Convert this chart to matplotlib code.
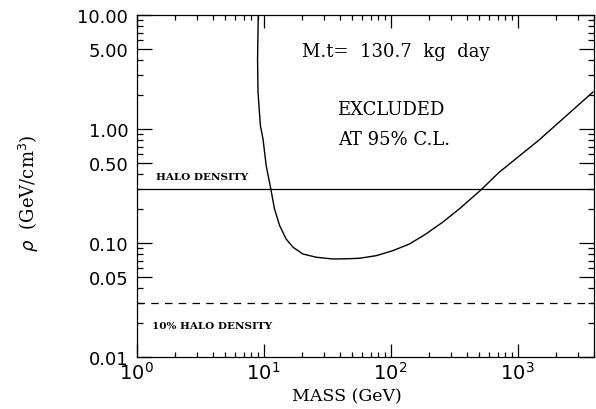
import matplotlib
matplotlib.use("Agg")
import matplotlib.pyplot as plt
from matplotlib.ticker import FixedLocator, NullFormatter, LogLocator, FixedFormatter

# Data (exclusion curve, GeV vs GeV/cm^3)
mass = [9.09, 8.98, 9.05, 9.45, 9.91, 10.5, 11.4, 12.2, 13.4, 15.1, 17.1, 20.4,
        26.0, 35.2, 47.5, 57.0, 77.1, 104, 141, 190, 257, 348, 515, 716, 1476, 3926]
rho = [10.0, 4.11, 2.11, 1.07, 0.817, 0.476, 0.30, 0.199, 0.142, 0.108, 0.0917,
       0.0801, 0.0750, 0.0724, 0.0728, 0.0735, 0.0774, 0.0856, 0.098, 0.120,
       0.152, 0.199, 0.292, 0.417, 0.80, 2.11]
halo_density = 0.3
halo_10pct = 0.03
ytick_vals = [0.01, 0.05, 0.10, 0.50, 1.00, 5.00, 10.00]
ytick_labels = ["0.01", "0.05", "0.10", "0.50", "1.00", "5.00", "10.00"]
xtick_vals = [1, 10, 100, 1000]
xtick_labels = [r"$10^{0}$", r"$10^{1}$", r"$10^{2}$", r"$10^{3}$"]

plt.rcParams['mathtext.fontset'] = 'dejavusans'
fig = plt.figure(figsize=(5.96, 4.10), dpi=100)
ax = fig.add_axes([136.5/596, 52/410, (594-136.5)/596, (358-16)/410])
ax.set_xscale('log')
ax.set_yscale('log')
ax.set_xlim(1, 4000)
ax.set_ylim(0.01, 10)

ax.plot(mass, rho, color='black', lw=1.0)
ax.axhline(halo_density, color='black', lw=0.9)
ax.axhline(halo_10pct, color='black', lw=0.9, dashes=(6, 5))

serif = 'DejaVu Serif'
ax.text(0.362, 0.895, "M.t=  130.7  kg  day", transform=ax.transAxes, fontsize=13,
        family=serif, va='center', ha='left')
ax.text(0.556, 0.725, "EXCLUDED", transform=ax.transAxes, fontsize=13,
        family=serif, va='center', ha='center')
ax.text(0.563, 0.636, "AT 95% C.L.", transform=ax.transAxes, fontsize=13,
        family=serif, va='center', ha='center')
ax.text(0.042, 0.528, "HALO DENSITY", transform=ax.transAxes, fontsize=7.5,
        family=serif, weight='bold', va='center', ha='left')
ax.text(0.034, 0.093, "10% HALO DENSITY", transform=ax.transAxes, fontsize=7.5,
        family=serif, weight='bold', va='center', ha='left')

ax.set_xlabel("MASS (GeV)", family=serif, fontsize=12.5)
ax.xaxis.set_label_coords(0.46, -0.09)
ax.set_ylabel(r"$\rho$  (GeV/cm$^3$)", family=serif, fontsize=13)
ax.yaxis.set_label_coords(-0.208, 0.482)

# ticks
ax.yaxis.set_major_locator(FixedLocator(ytick_vals))
ax.yaxis.set_major_formatter(FixedFormatter(ytick_labels))
ax.yaxis.set_minor_locator(LogLocator(base=10, subs=(2, 3, 4, 6, 7, 8, 9)))
ax.yaxis.set_minor_formatter(NullFormatter())
ax.xaxis.set_major_locator(FixedLocator(xtick_vals))
ax.xaxis.set_major_formatter(FixedFormatter(xtick_labels))
ax.xaxis.set_minor_locator(LogLocator(base=10, subs=(2, 3, 4, 5, 6, 7, 8, 9)))
ax.xaxis.set_minor_formatter(NullFormatter())

ax.tick_params(which='both', direction='in', top=True, right=True, width=0.9)
ax.tick_params(axis='y', which='major', length=11, labelsize=13, pad=6)
ax.tick_params(axis='y', which='minor', length=4)
ax.tick_params(axis='x', which='major', length=9.5, labelsize=14, pad=3)
ax.tick_params(axis='x', which='minor', length=3.5)
for lab in ax.get_yticklabels():
    lab.set_family('DejaVu Sans')
for s in ax.spines.values():
    s.set_linewidth(0.9)

fig.savefig("out.png", dpi=100)
